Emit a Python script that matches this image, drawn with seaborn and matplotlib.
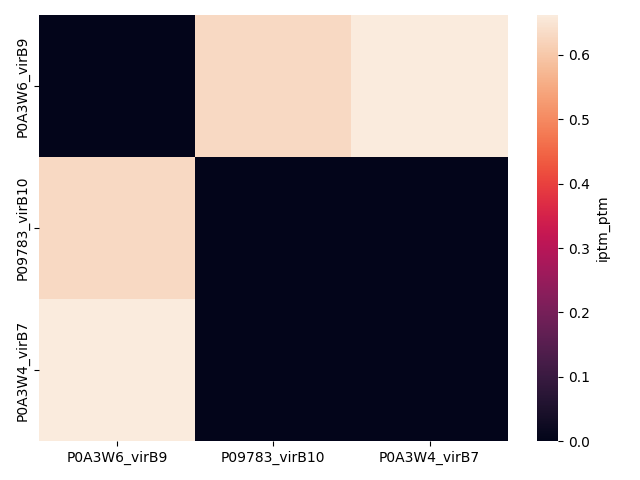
import seaborn as sns
import numpy as np
import pandas as pd
import matplotlib
matplotlib.use('Agg')
import matplotlib.pyplot as plt

proteins = ['P0A3W6_virB9', 'P09783_virB10', 'P0A3W4_virB7']
row_virB9 = [0.0, 0.63, 0.662]
row_virB10 = [0.63, 0.0, 0.0]
row_virB7 = [0.662, 0.0, 0.0]

df = pd.DataFrame([row_virB9, row_virB10, row_virB7], index=proteins, columns=proteins)

fig = plt.figure(figsize=(6.4, 4.8), dpi=100)
ax = sns.heatmap(df, cbar_kws={'label': 'iptm_ptm'})
plt.tight_layout()
plt.savefig('out.png')
